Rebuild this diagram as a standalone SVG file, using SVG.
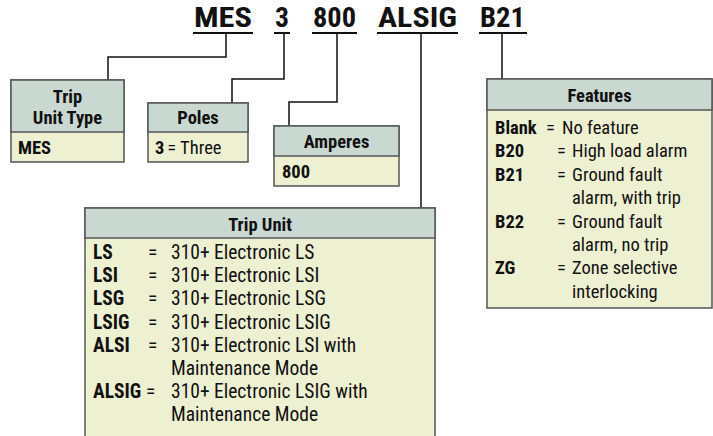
<svg xmlns="http://www.w3.org/2000/svg" width="713" height="436" viewBox="0 0 713 436">
<style>
text{font-family:"Liberation Sans Narrow","Roboto Condensed","Liberation Sans",sans-serif;fill:#111;}
.t{font-size:27px;font-weight:bold;}
.h{font-size:18.5px;font-weight:bold;text-anchor:middle;}
.b{font-size:18.5px;font-weight:bold;}
.n{font-size:18.5px;}
.tu .b,.tu .n{font-size:19.5px;}
.hd{fill:#c9d8d1;stroke:#555;stroke-width:1.5;}
.ct{fill:#eef0d2;stroke:#555;stroke-width:1.5;}
.ln{fill:none;stroke:#111;stroke-width:1.5;}
.ul{stroke:#111;stroke-width:2;}
</style>
<g id="title">
<text class="t" x="194" y="27" textLength="58" lengthAdjust="spacingAndGlyphs">MES</text>
<text class="t" x="275" y="27" textLength="14" lengthAdjust="spacingAndGlyphs">3</text>
<text class="t" x="313" y="27" textLength="43" lengthAdjust="spacingAndGlyphs">800</text>
<text class="t" x="378" y="27" textLength="79" lengthAdjust="spacingAndGlyphs">ALSIG</text>
<text class="t" x="480" y="27" textLength="45" lengthAdjust="spacingAndGlyphs">B21</text>
<line class="ul" x1="193" y1="33" x2="253" y2="33"/>
<line class="ul" x1="274" y1="33" x2="290" y2="33"/>
<line class="ul" x1="312" y1="33" x2="357" y2="33"/>
<line class="ul" x1="377" y1="33" x2="458" y2="33"/>
<line class="ul" x1="479" y1="33" x2="527" y2="33"/>
</g>
<g id="connectors">
<polyline class="ln" points="226,33 226,57 108,57 108,80"/>
<polyline class="ln" points="284,33 284,79 232,79 232,103"/>
<polyline class="ln" points="337,33 337,102 289,102 289,126"/>
<polyline class="ln" points="421,33 421,208"/>
<polyline class="ln" points="502,33 502,79"/>
</g>
<g id="trip-unit-type">
<rect class="ct" x="11" y="80" width="113" height="82"/>
<rect class="hd" x="11" y="80" width="113" height="52"/>
<text class="h" x="67.5" y="103">Trip</text>
<text class="h" x="67.5" y="124">Unit Type</text>
<text class="b" x="18" y="154">MES</text>
</g>
<g id="poles">
<rect class="ct" x="148" y="103" width="100" height="59"/>
<rect class="hd" x="148" y="103" width="100" height="29"/>
<text class="h" x="198" y="124">Poles</text>
<text x="155" y="154"><tspan class="b">3</tspan><tspan class="n" dx="3">= Three</tspan></text>
</g>
<g id="amperes">
<rect class="ct" x="274" y="126" width="125" height="60"/>
<rect class="hd" x="274" y="126" width="125" height="30"/>
<text class="h" x="336.5" y="148">Amperes</text>
<text class="b" x="282" y="178">800</text>
</g>
<g id="features">
<rect class="ct" x="487" y="79" width="225" height="229"/>
<rect class="hd" x="487" y="79" width="225" height="31"/>
<text class="h" x="599.5" y="102">Features</text>
<text class="b" x="495" y="134">Blank</text><text class="n" x="546" y="134">=</text><text class="n" x="562" y="134">No feature</text>
<text class="b" x="495" y="157">B20</text><text class="n" x="557" y="157">=</text><text class="n" x="572" y="157">High load alarm</text>
<text class="b" x="495" y="181">B21</text><text class="n" x="557" y="181">=</text><text class="n" x="572" y="181">Ground fault</text>
<text class="n" x="572" y="204">alarm, with trip</text>
<text class="b" x="495" y="228">B22</text><text class="n" x="557" y="228">=</text><text class="n" x="572" y="228">Ground fault</text>
<text class="n" x="572" y="251">alarm, no trip</text>
<text class="b" x="495" y="274">ZG</text><text class="n" x="557" y="274">=</text><text class="n" x="572" y="274">Zone selective</text>
<text class="n" x="572" y="298">interlocking</text>
</g>
<g id="trip-unit" class="tu">
<rect class="ct" x="85" y="208" width="350" height="240"/>
<rect class="hd" x="85" y="208" width="350" height="30"/>
<text class="h" x="260" y="231">Trip Unit</text>
<text class="b" x="93" y="259">LS</text><text class="n" x="148" y="259">=</text><text class="n" x="171" y="259">310+ Electronic LS</text>
<text class="b" x="93" y="282">LSI</text><text class="n" x="148" y="282">=</text><text class="n" x="171" y="282">310+ Electronic LSI</text>
<text class="b" x="93" y="305">LSG</text><text class="n" x="148" y="305">=</text><text class="n" x="171" y="305">310+ Electronic LSG</text>
<text class="b" x="93" y="329">LSIG</text><text class="n" x="148" y="329">=</text><text class="n" x="171" y="329">310+ Electronic LSIG</text>
<text class="b" x="93" y="352">ALSI</text><text class="n" x="148" y="352">=</text><text class="n" x="171" y="352">310+ Electronic LSI with</text>
<text class="n" x="171" y="375">Maintenance Mode</text>
<text class="b" x="93" y="398">ALSIG</text><text class="n" x="146" y="398">=</text><text class="n" x="171" y="398">310+ Electronic LSIG with</text>
<text class="n" x="171" y="421">Maintenance Mode</text>
</g>
</svg>
